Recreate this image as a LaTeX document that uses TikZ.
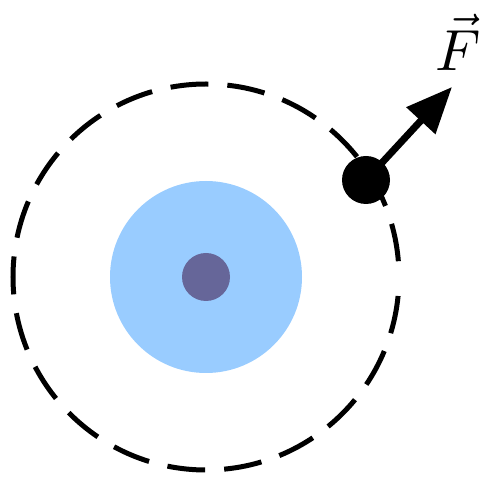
\documentclass[tikz,border=0pt]{standalone}
\usetikzlibrary{arrows.meta}
\definecolor{diskblue}{HTML}{99CCFF}
\definecolor{corepurple}{HTML}{666699}
\begin{document}
\begin{tikzpicture}[x=1pt,y=-1pt,
  orbit/.style={line width=5pt,dash pattern=on 38pt off 19pt,dash phase=38pt},
  force/.style={line width=7pt,-{Triangle[length=46pt,width=38pt]}}]
\useasboundingbox (0,0) rectangle (483,478);
\coordinate (c) at (206,277);
\fill[diskblue] (c) circle[radius=96];
\fill[corepurple] (c) circle[radius=24];
\draw[orbit] (c) circle[radius=193];
\node[circle,fill=black,minimum size=48pt,inner sep=0pt] (ball) at (366,180) {};
\coordinate (tip) at (452,87);
\draw[force] (ball.center) -- (tip);
\node[scale=5.8,inner sep=0pt] (F) at (458,42) {$\vec{F}$};
\end{tikzpicture}
\end{document}
